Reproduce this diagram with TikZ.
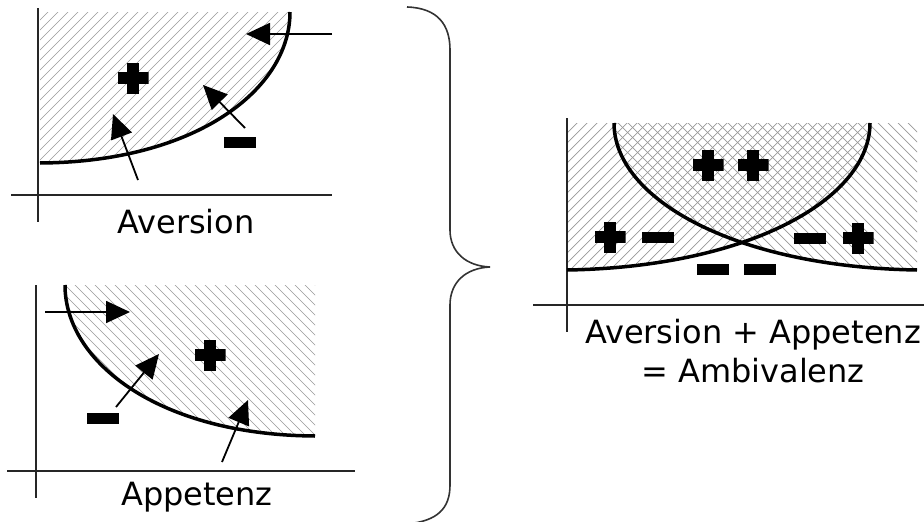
\documentclass[tikz,border=0pt]{standalone}
\usepackage{fontspec}
\setmainfont{DejaVu Sans}
\usetikzlibrary{arrows.meta}

\begin{document}
\begin{tikzpicture}[x=1pt, y=-1pt]
% Styles
\tikzstyle{axis} = [line width=1.5pt, black!85]
\tikzstyle{curve} = [line width=3.5pt, black]
\tikzstyle{hatch} = [line width=0.7pt, black!40]
\tikzstyle{arrow} = [line width=1.8pt, -{Triangle[length=24pt, width=22pt]}]
\tikzstyle{minus} = [rectangle, fill=black, minimum width=32pt, minimum height=11pt, inner sep=0pt]
\tikzstyle{plus} = [rectangle, minimum size=31pt, inner sep=0pt, path picture={
  \fill ([yshift=-6pt]path picture bounding box.west) rectangle ([yshift=6pt]path picture bounding box.east);
  \fill ([xshift=-6pt]path picture bounding box.south) rectangle ([xshift=6pt]path picture bounding box.north);}]
\tikzstyle{caption} = [font=\fontsize{32}{39}\selectfont, anchor=base, inner sep=0pt]
\tikzstyle{brace} = [line width=1.6pt, black!80]

\useasboundingbox[fill=white] (0,0) rectangle (924,522);

% Aversion
\begin{scope}
\clip (40,163) .. controls (195,162) and (290,90) .. (290,12) -- (40,12) -- cycle;
\foreach \i in {-140,-130,...,300} \draw[hatch] (\i,170) -- ++(160,-160);
\end{scope}
\draw[axis] (38,8) -- (38,222);
\draw[axis] (11,195) -- (332,195);
\draw[curve] (40,163) .. controls (195,162) and (290,90) .. (290,12);
\node (av) [caption] at (186,233) {Aversion};
\node (av+) [plus] at (133,78) {};
\node (av-) [minus] at (240,142) {};
\coordinate (av1s) at (138,180);
\coordinate (av1e) at (113,114);
\coordinate (av2s) at (245,128);
\coordinate (av2e) at (203,85);
\coordinate (av3s) at (332,34);
\coordinate (av3e) at (246,34);

% Appetenz
\begin{scope}
\clip (65,285) .. controls (65,363) and (160,435) .. (315,436) -- (315,285) -- cycle;
\foreach \i in {-110,-100,...,330} \draw[hatch] (\i,280) -- ++(160,160);
\end{scope}
\draw[axis] (36,285) -- (36,498);
\draw[axis] (7,471) -- (355,471);
\draw[curve] (65,285) .. controls (65,363) and (160,435) .. (315,436);
\node (ap) [caption] at (197,505) {Appetenz};
\node (ap+) [plus] at (210,355) {};
\node (ap-) [minus] at (103,418) {};
\coordinate (ap1s) at (45,312);
\coordinate (ap1e) at (130,312);
\coordinate (ap2s) at (116,407);
\coordinate (ap2e) at (159,354);
\coordinate (ap3s) at (222,462);
\coordinate (ap3e) at (248,400);

% Ambivalenz
\begin{scope}
\clip (567,270) .. controls (749,267) and (870,199) .. (870,123) -- (567,123) -- cycle;
\foreach \i in {400,410,...,880} \draw[hatch] (\i,280) -- ++(165,-165);
\end{scope}
\begin{scope}
\clip (614,123) .. controls (614,199) and (735,267) .. (917,270) -- (917,123) -- cycle;
\foreach \i in {450,460,...,930} \draw[hatch] (\i,115) -- ++(165,165);
\end{scope}
\draw[axis] (567,118) -- (567,332);
\draw[axis] (533,305) -- (924,305);
\draw[curve] (567,270) .. controls (749,267) and (870,199) .. (870,123);
\draw[curve] (614,123) .. controls (614,199) and (735,267) .. (917,270);
\node (sum) [caption] at (753,343) {Aversion + Appetenz};
\node (amb) [caption] at (753,382) {= Ambivalenz};
\node (pp1) [plus] at (708,165) {};
\node (pp2) [plus] at (753,165) {};
\node (pm1) [plus] at (610,237) {};
\node (pm2) [minus] at (658,237) {};
\node (mp1) [minus] at (810,238) {};
\node (mp2) [plus] at (858,238) {};
\node (mm1) [minus] at (713,269) {};
\node (mm2) [minus] at (760,269) {};

% Brace
\draw[brace] (407,7) .. controls (438,8) and (450,25) .. (450,50) -- (450,230)
  .. controls (450,252) and (466,266) .. (490,267)
  .. controls (466,268) and (450,282) .. (450,305) -- (450,485)
  .. controls (450,508) and (438,521) .. (407,524);

% Arrows
\draw [arrow] (av1s) -- (av1e);
\draw [arrow] (av2s) -- (av2e);
\draw [arrow] (av3s) -- (av3e);
\draw [arrow] (ap1s) -- (ap1e);
\draw [arrow] (ap2s) -- (ap2e);
\draw [arrow] (ap3s) -- (ap3e);

\end{tikzpicture}
\end{document}
